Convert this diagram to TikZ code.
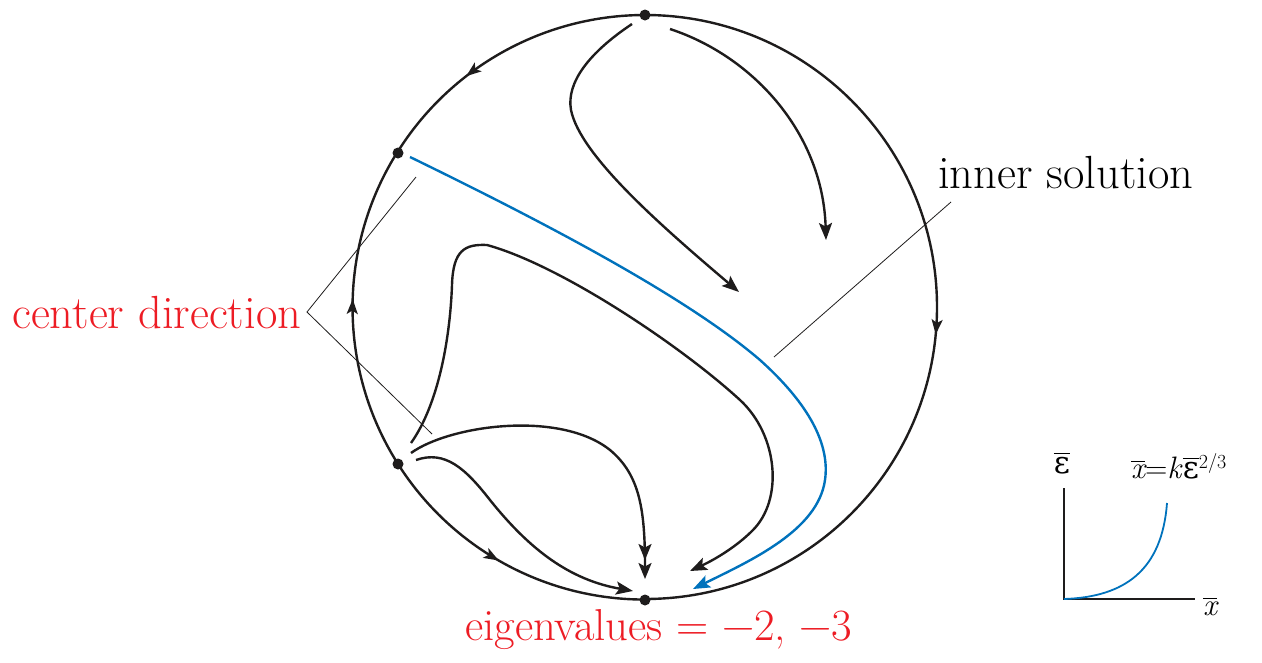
\documentclass[tikz,border=0pt]{standalone}
\usepackage{fontspec}
\newfontfamily\grk{DejaVu Serif}
\usetikzlibrary{arrows.meta,decorations.markings}
\definecolor{cred}{RGB}{237,28,36}
\definecolor{cblue}{RGB}{0,114,188}
\definecolor{cink}{RGB}{30,28,28}
\newcommand\ob[1]{\vbox{\hrule height 1.3pt\kern 2.4pt\hbox{#1}}}
\begin{document}
\begin{tikzpicture}[x=1pt,y=-1pt,
  flow/.style={line width=2.4pt, draw=cink},
  tip/.style={-{Stealth[length=17pt,width=13pt,inset=3.5pt]}},
  dtip/.style={-{Stealth[length=16pt,width=13pt,inset=3.5pt,sep=3pt]Stealth[length=16pt,width=13pt,inset=3.5pt,sep=3pt]}},
  midarrow/.style={decoration={markings,mark=at position #1 with {\arrow{Stealth[length=15pt,width=11pt,inset=3.5pt]}}},postaction=decorate},
  dot/.style={circle,fill=cink,inner sep=0pt,minimum size=11pt},
  leader/.style={line width=0.8pt, draw=cink},
  lbl/.style={font=\fontsize{46.5}{52}\selectfont,inner sep=0pt},
  small/.style={font=\fontsize{31}{36}\selectfont,inner sep=0pt},
]
\useasboundingbox (0,0) rectangle (1262,662);

\node[dot] (top) at (645,15) {};
\node[dot] (ul) at (398,153) {};
\node[dot] (ll) at (398,464) {};
\node[dot] (bot) at (645,600) {};

% circle arcs
\draw[flow, midarrow=0.65] (top.center) arc[start angle=270, end angle=211.9, radius=292];
\draw[flow, midarrow=0.53] (ll.center) arc[start angle=147.6, end angle=211.9, radius=292];
\draw[flow, midarrow=0.48] (ll.center) arc[start angle=147.6, end angle=90, radius=292];
\draw[flow, midarrow=0.53] (top.center) arc[start angle=-90, end angle=90, radius=292];

% interior trajectories
\draw[flow, tip] (632,24) .. controls (590,52) and (566,82) .. (571,110)
  .. controls (580,155) and (660,225) .. (739,292);
\draw[flow, tip] (670,29) .. controls (755,57) and (823,135) .. (826,240);
\draw[flow, tip] (411,443) .. controls (438,405) and (450,340) .. (452,285)
  .. controls (453,250) and (465,244) .. (487,245)
  .. controls (560,265) and (680,345) .. (740,400)
  .. controls (778,435) and (784,500) .. (752,531)
  .. controls (737,546) and (716,559) .. (690,571);
\draw[flow, dtip] (411,453) .. controls (450,425) and (560,410) .. (610,450)
  .. controls (640,475) and (645,510) .. (645,582);
\draw[flow, tip] (416,460) .. controls (445,450) and (465,468) .. (490,500)
  .. controls (530,550) and (570,580) .. (633,591);
\draw[line width=2.4pt, draw=cblue, -{Stealth[length=17pt,width=13pt,inset=3.5pt]}]
  (410,157) .. controls (560,230) and (690,300) .. (760,360)
  .. controls (810,405) and (830,445) .. (825,480)
  .. controls (818,530) and (752,560) .. (693,589);

% labels
\node[lbl, text=cred, anchor=base west] (cdir) at (12,328) {center direction};
\node[lbl, anchor=base west] (inner) at (938,188) {inner solution};
\node[lbl, text=cred, anchor=base west, font=\fontsize{44.7}{50}\selectfont] (eig) at (465,640) {eigenvalues = −2, −3};

% leader lines
\coordinate (cdtip) at (307,312);
\coordinate (cdA) at (416,177);
\coordinate (cdB) at (432,434);
\draw[leader] (cdA) -- (cdtip) -- (cdB);
\coordinate (isA) at (951,202);
\coordinate (isB) at (774,357);
\draw[leader] (isA) -- (isB);

% inset graph
\coordinate (O) at (1064,599);
\coordinate (ytop) at (1064,488);
\coordinate (xend) at (1195,599);
\coordinate (cend) at (1167,503);
\draw[line width=1.6pt, draw=cink] (ytop) -- (O) -- (xend);
\draw[line width=1.8pt, draw=cblue] (O) .. controls (1125,597) and (1162,570) .. (cend);
\node[small, anchor=base] (eps) at (1062,473) {\ob{\grk ε}};
\node[small, anchor=base west] (xlab) at (1203,615) {\ob{\itshape x}};
\node[small, anchor=base west] (form) at (1131,478) {\ob{\itshape x}=\textit{k}\ob{\grk ε}\raisebox{10pt}{\fontsize{20}{20}\selectfont 2/3}};
\end{tikzpicture}
\end{document}
